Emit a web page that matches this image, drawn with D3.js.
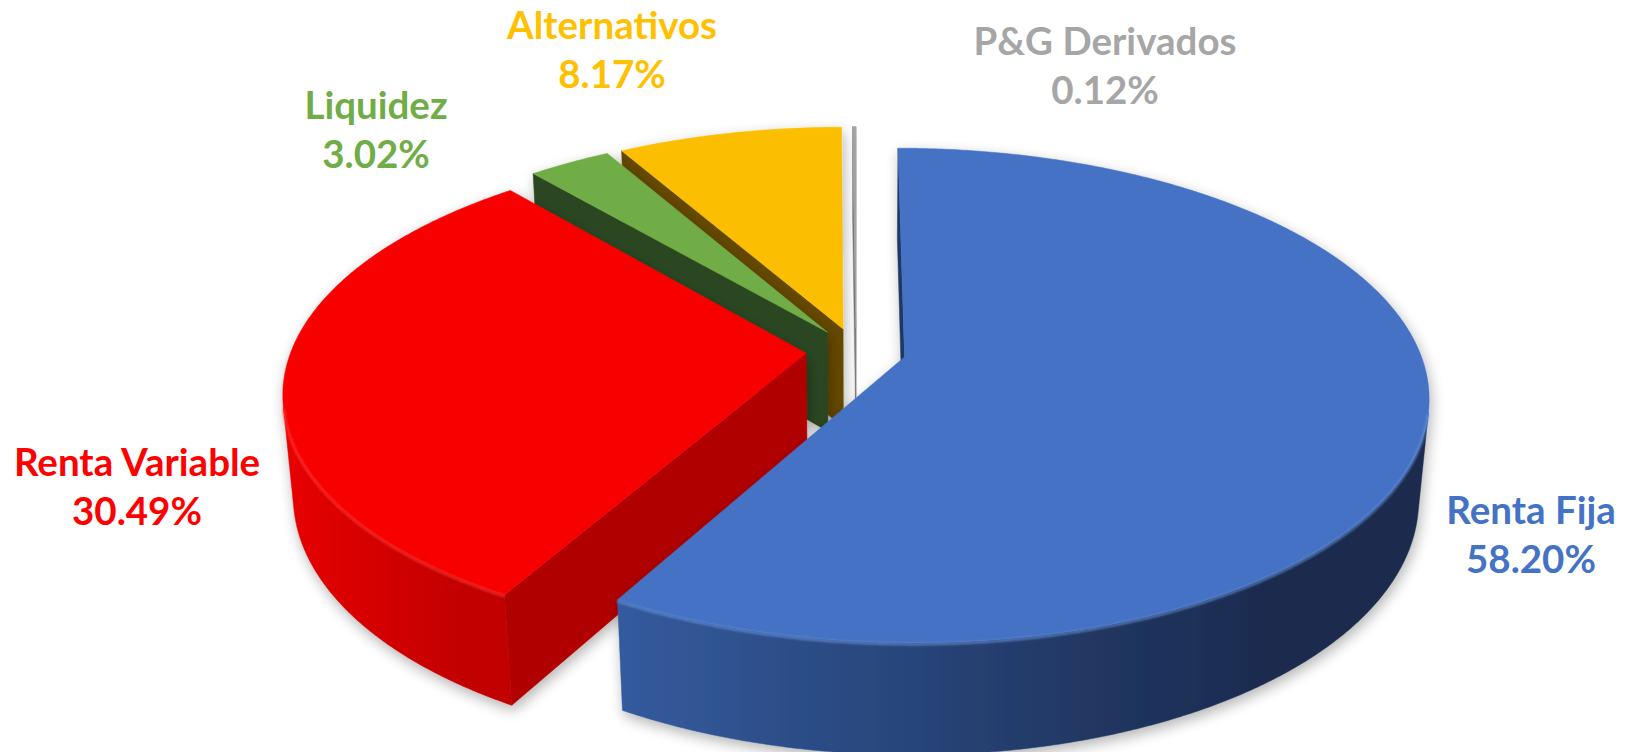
<!DOCTYPE html>
<html>
<head>
<meta charset="utf-8">
<script src="https://cdn.jsdelivr.net/npm/d3@7"></script>
<style>
  body { margin: 0; background: #fff; }
  svg { display: block; }
</style>
</head>
<body>
<div id="container"></div>
<script>
let w = 1632;
let h = 752;

// DATA
let categories = ["Renta Fija", "Renta Variable", "Liquidez", "Alternativos", "P&G Derivados"];
let shares = [58.20, 30.49, 3.02, 8.17, 0.12];

// STYLE
let topColors = ["#4472C4", "#F80000", "#70AD47", "#FBBE00", "#A5A5A5"];
let sideColors = ["#1F3864", "#B00000", "#2C4620", "#664A00", "#7A7A7A"];
let wallLight = ["#335B9E", "#E80000", "#4E7A32", "#B08500", "#8F8F8F"];
let wallDark = ["#1A2B4E", "#C20000", "#2C4620", "#664A00", "#6F6F6F"];
let rimColors = ["#6C97E0", "#FF3A3A", "#8BC865", "#FFD44D", "#C0C0C0"];
let labelColors = ["#4472C4", "#FF0000", "#70AD47", "#FFC000", "#A6A6A6"];
// label anchors (centre x, first baseline)
let labelAnchors = [[1531, 524], [137, 476], [376, 119], [612, 39], [1105, 55]];
let lineGap = 49;

// 3D pie settings
let cx = 856, cy = 351;
let R = 515, explode = 50, thick = 115;
let tilt = 27.7 * Math.PI / 180;
let sinA = Math.sin(tilt), cosA = Math.cos(tilt);
let persp = 0.00034;
let camW = -cosA / persp;

function project(u, v, z) {
  let Y = v * sinA + z * cosA;
  let d = v * cosA - z * sinA;
  let s = 1 / (1 + persp * d);
  return [cx + u * s, cy - Y * s];
}

let viz = d3.select("#container").append("svg")
  .attr("width", w)
  .attr("height", h)
  .style("background-color", "white");

let defs = viz.append("defs");
let shadow = defs.append("filter").attr("id", "shadow")
  .attr("x", "-20%").attr("y", "-20%").attr("width", "140%").attr("height", "140%");
shadow.append("feGaussianBlur").attr("in", "SourceAlpha").attr("stdDeviation", 7).attr("result", "b");
shadow.append("feOffset").attr("in", "b").attr("dx", 2).attr("dy", 5).attr("result", "o");
shadow.append("feComponentTransfer").attr("in", "o").attr("result", "t")
  .append("feFuncA").attr("type", "linear").attr("slope", 0.3);
let merge = shadow.append("feMerge");
merge.append("feMergeNode").attr("in", "t");
merge.append("feMergeNode").attr("in", "SourceGraphic");

let soft = defs.append("filter").attr("id", "soft");
soft.append("feGaussianBlur").attr("stdDeviation", 1.2);

let pie = d3.pie().sort(null).value(d => d);
let arcs = pie(shares).map((a, i) => {
  let mid = (a.startAngle + a.endAngle) / 2;
  return {
    i: i,
    a0: a.startAngle,
    a1: a.endAngle,
    mid: mid,
    ex: explode * Math.sin(mid),
    ew: explode * Math.cos(mid)
  };
});

// far slices first
let order = arcs.slice().sort((p, q) => Math.cos(q.mid) - Math.cos(p.mid));

function pt(s, th, z) {
  return project(s.ex + R * Math.sin(th), s.ew + R * Math.cos(th), z);
}
function apex(s, z) {
  return project(s.ex, s.ew, z);
}
let line = d3.line();

order.forEach(s => {
  let g = viz.append("g").attr("class", "slice").attr("filter", "url(#shadow)");
  let n = Math.max(2, Math.ceil((s.a1 - s.a0) / (0.4 * Math.PI / 180)));
  let ths = d3.range(n + 1).map(k => s.a0 + (s.a1 - s.a0) * k / n);

  // outer wall, visible runs only
  let vis = th => -s.ex * Math.sin(th) - s.ew * Math.cos(th) + camW * Math.cos(th) - R > 0;
  let runs = [];
  let cur = null;
  ths.forEach(th => {
    if (vis(th)) {
      if (!cur) { cur = []; runs.push(cur); }
      cur.push(th);
    } else cur = null;
  });
  runs.forEach(run => {
    let topPts = run.map(th => pt(s, th, 0));
    let botPts = run.slice().reverse().map(th => pt(s, th, -thick));
    let xs = topPts.concat(botPts).map(p => p[0]);
    let gid = "wall" + s.i + "_" + Math.round(run[0] * 1000);
    let grad = defs.append("linearGradient").attr("id", gid)
      .attr("gradientUnits", "userSpaceOnUse")
      .attr("x1", d3.min(xs)).attr("x2", d3.max(xs)).attr("y1", 0).attr("y2", 0);
    grad.append("stop").attr("offset", 0).attr("stop-color", wallLight[s.i]);
    grad.append("stop").attr("offset", 0.55).attr("stop-color", d3.interpolateRgb(wallLight[s.i], wallDark[s.i])(0.7));
    grad.append("stop").attr("offset", 0.8).attr("stop-color", wallDark[s.i]);
    grad.append("stop").attr("offset", 1).attr("stop-color", wallDark[s.i]);
    g.append("path")
      .attr("d", line(topPts.concat(botPts)) + "Z")
      .attr("fill", "url(#" + gid + ")")
      .attr("stroke", "url(#" + gid + ")")
      .attr("stroke-width", 0.5);
  });

  // radial faces
  let faces = [
    { th: s.a0, dot: s.ex * Math.cos(s.a0) + Math.sin(s.a0) * (camW - s.ew) },
    { th: s.a1, dot: -s.ex * Math.cos(s.a1) - Math.sin(s.a1) * (camW - s.ew) }
  ];
  faces.forEach(f => {
    if (f.dot <= 0) return;
    let poly = [apex(s, 0), pt(s, f.th, 0), pt(s, f.th, -thick), apex(s, -thick)];
    g.append("path")
      .attr("d", line(poly) + "Z")
      .attr("fill", sideColors[s.i])
      .attr("stroke", sideColors[s.i])
      .attr("stroke-width", 0.5);
  });

  // top face
  let topPoly = [apex(s, 0)].concat(ths.map(th => pt(s, th, 0)));
  g.append("path")
    .attr("d", line(topPoly) + "Z")
    .attr("fill", topColors[s.i])
    .attr("stroke", topColors[s.i])
    .attr("stroke-width", 0.5);

  // light rim along the front edge of the top face
  runs.forEach(run => {
    if (run.length < 3) return;
    g.append("path")
      .attr("d", line(run.map(th => pt(s, th, -1.5))))
      .attr("fill", "none")
      .attr("stroke", rimColors[s.i])
      .attr("stroke-width", 2.5)
      .attr("opacity", 0.7)
      .attr("filter", "url(#soft)");
  });
});

// LABELS
let fmt = d3.format(".2f");
let lab = viz.selectAll(".label").data(categories).enter()
  .append("text")
  .attr("class", "label")
  .attr("text-anchor", "middle")
  .attr("font-family", "Lato, 'Open Sans', sans-serif")
  .attr("font-weight", 700)
  .attr("font-size", 38.5)
  .attr("fill", (d, i) => labelColors[i]);
lab.append("tspan")
  .attr("x", (d, i) => labelAnchors[i][0])
  .attr("y", (d, i) => labelAnchors[i][1])
  .text(d => d);
lab.append("tspan")
  .attr("x", (d, i) => labelAnchors[i][0])
  .attr("y", (d, i) => labelAnchors[i][1] + lineGap)
  .text((d, i) => fmt(shares[i]) + "%");
</script>
</body>
</html>
